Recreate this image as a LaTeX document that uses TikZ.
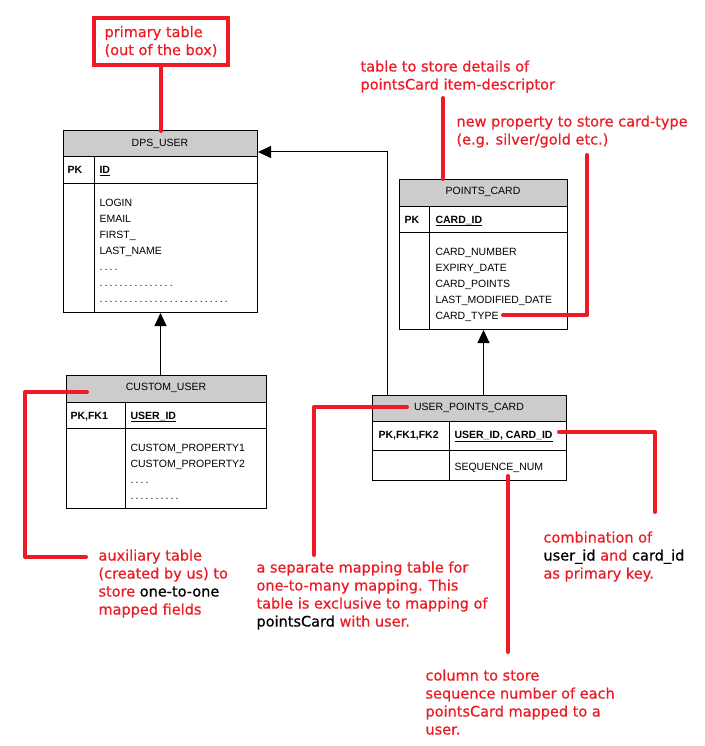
\documentclass[tikz,border=0pt]{standalone}
\usepackage{fontspec}
\setmainfont{Liberation Sans}
\newfontfamily\notefont[FakeBold=0.6]{DejaVu Sans}
\usetikzlibrary{arrows.meta}
\definecolor{notered}{RGB}{237,28,36}
\definecolor{hdrgray}{RGB}{204,204,204}
\newcommand{\blk}[1]{\textcolor{black}{#1}}
\newcommand{\dotrow}[1]{\foreach \k in {1,...,#1}{.\kern2.1pt}}
\begin{document}
\begin{tikzpicture}[x=1pt,y=-1pt,line width=1pt,
    tbl/.style={draw=black,inner sep=0pt,anchor=north west},
    hdr/.style={fill=hdrgray,draw=black},
    tblname/.style={inner sep=0pt,font=\fontsize{10.5}{12}\selectfont},
    fld/.style={anchor=base west,inner sep=0pt,font=\fontsize{10.5}{12}\selectfont},
    pkfld/.style={fld,font=\fontsize{10.5}{12}\selectfont\bfseries},
    fk/.style={draw=black,-{Triangle[width=12pt,length=13pt]}},
    callout/.style={draw=notered,line width=4pt,line cap=round,line join=round},
    notetext/.style={anchor=north west,inner sep=0pt,align=left,text=notered,font=\notefont\fontsize{14.5}{18}\selectfont}]
    \fill[white] (0,0) rectangle (704,746);
    \useasboundingbox (0,0) rectangle (704,746);
    % DPS_USER
    \node[tbl,minimum width=194pt,minimum height=181pt] (dps) at (63,131) {};
    \draw[hdr] (63,131) rectangle (257,157);
    \draw (63,183) -- (257,183);
    \draw (94,157) -- (94,312);
    \node[tblname] (dps-name) at (160,144) {DPS\_USER};
    \node[pkfld] (dps-pk) at (67,174) {PK};
    \node[pkfld] (dps-id) at (99,174) {\underline{ID}};
    \foreach \f [count=\i] in {LOGIN,EMAIL,FIRST\_,LAST\_NAME,\dotrow{4},\dotrow{15},\dotrow{26}}
        \node[fld] (dps-\i) at (99,190+16*\i) {\f};
    % POINTS_CARD
    \node[tbl,minimum width=168pt,minimum height=150pt] (pc) at (399,179) {};
    \draw[hdr] (399,179) rectangle (567,206);
    \draw (399,232) -- (567,232);
    \draw (429,206) -- (429,329);
    \node[tblname] (pc-name) at (483,192) {POINTS\_CARD};
    \node[pkfld] (pc-pk) at (404,223) {PK};
    \node[pkfld] (pc-id) at (435,223) {\underline{CARD\_ID}};
    \foreach \f [count=\i] in {CARD\_NUMBER,EXPIRY\_DATE,CARD\_POINTS,LAST\_MODIFIED\_DATE,CARD\_TYPE}
        \node[fld] (pc-\i) at (435,239+16*\i) {\f};
    % CUSTOM_USER
    \node[tbl,minimum width=200pt,minimum height=133pt] (cu) at (66,375) {};
    \draw[hdr] (66,375) rectangle (266,402);
    \draw (66,428) -- (266,428);
    \draw (125,402) -- (125,508);
    \node[tblname] (cu-name) at (166,388) {CUSTOM\_USER};
    \node[pkfld] (cu-pk) at (70,419) {PK,FK1};
    \node[pkfld] (cu-id) at (130,419) {\underline{USER\_ID}};
    \foreach \f [count=\i] in {CUSTOM\_PROPERTY1,CUSTOM\_PROPERTY2,\dotrow{4},\dotrow{10}}
        \node[fld] (cu-\i) at (130,435+16*\i) {\f};
    % USER_POINTS_CARD
    \node[tbl,minimum width=194pt,minimum height=85pt] (upc) at (372,395) {};
    \draw[hdr] (372,395) rectangle (566,421);
    \draw (372,450) -- (566,450);
    \draw (449,421) -- (449,480);
    \node[tblname] (upc-name) at (469,408) {USER\_POINTS\_CARD};
    \node[pkfld] (upc-pk) at (378,438) {PK,FK1,FK2};
    \node[pkfld] (upc-id) at (454,438) {\underline{USER\_ID, CARD\_ID}};
    \node[fld] (upc-1) at (454,470) {SEQUENCE\_NUM};
    % relations
    \draw[fk] (dps.south |- cu.north) -- (dps.south);
    \draw[fk] (pc.south |- upc.north) -- (pc.south);
    \draw[fk] ([xshift=15pt]upc.north west) |- ([yshift=-21pt]dps.north east);
    % notes
    \node[draw=notered,line width=4pt,minimum width=134pt,minimum height=47pt,inner sep=0pt,
        align=left,text=notered,font=\notefont\fontsize{14.5}{18}\selectfont] (prim) at (161,41.5)
        {primary table\\(out of the box)};
    \draw[callout] (prim.south) -- (prim.south |- dps.north);
    \node[notetext] (pc-note) at (360,60) {table to store details of\\pointsCard item-descriptor};
    \coordinate (pc-tag) at (443,98);
    \draw[callout] (pc-tag) -- (pc-tag |- pc.north);
    \node[notetext] (ct-note) at (456,115) {new property to store card-type\\(e.g. silver/gold etc.)};
    \coordinate (ct-a) at (503,315);
    \coordinate (ct-b) at (587,155);
    \draw[callout] (ct-a) -| (ct-b);
    \node[notetext] (aux-note) at (98,549) {auxiliary table\\(created by us) to\\store \blk{one-to-one}\\mapped fields};
    \coordinate (aux-a) at (87,392);
    \coordinate (aux-b) at (86,557);
    \draw[callout] (aux-a) -| (25,557) -- (aux-b);
    \node[notetext] (map-note) at (256,561) {a separate mapping table for\\one-to-many mapping. This\\table is exclusive to mapping of\\\blk{pointsCard} with user.};
    \coordinate (map-a) at (407,407);
    \coordinate (map-b) at (314,555);
    \draw[callout] (map-a) -| (map-b);
    \node[notetext] (cmb-note) at (543,531) {combination of\\\blk{user\_id} and \blk{card\_id}\\as primary key.};
    \coordinate (cmb-a) at (559,432);
    \coordinate (cmb-b) at (655,512);
    \draw[callout] (cmb-a) -| (cmb-b);
    \node[notetext] (seq-note) at (425,669) {column to store\\sequence number of each\\pointsCard mapped to a\\user.};
    \coordinate (seq-a) at (508,476);
    \coordinate (seq-b) at (508,652);
    \draw[callout] (seq-a) -- (seq-b);
\end{tikzpicture}
\end{document}
